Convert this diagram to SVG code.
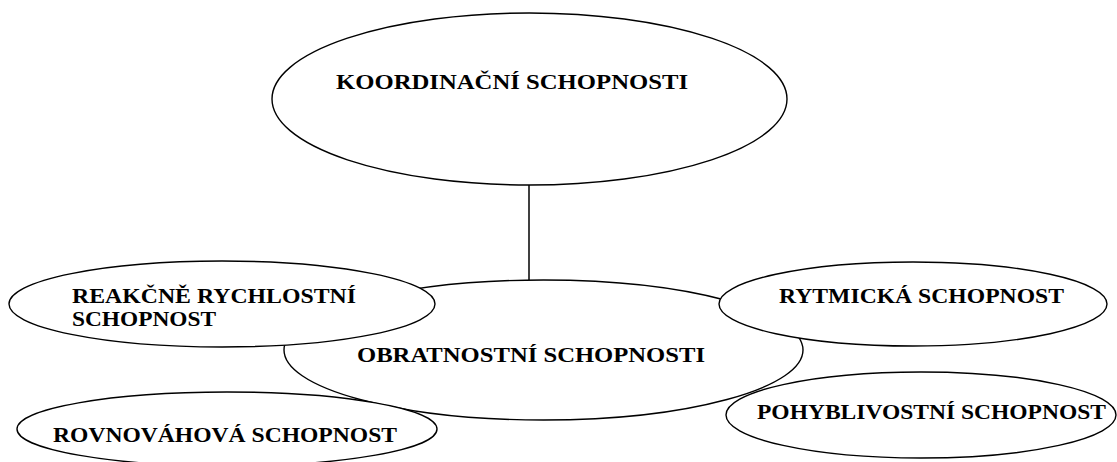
<svg xmlns="http://www.w3.org/2000/svg" width="1117" height="462" viewBox="0 0 1117 462">
<style>
.e{fill:#fff;stroke:#000;stroke-width:1.4}
.t{font-family:"Liberation Serif","Times New Roman",serif;font-weight:bold;font-size:22px;fill:#000}
.c{stroke:#000;stroke-width:1.5;fill:none}
</style>
<rect width="1117" height="462" fill="#fff"/>
<g id="connectors">
<line class="c" x1="529" y1="185" x2="529" y2="280"/>
</g>
<g id="koordinacni">
<ellipse class="e" cx="529.5" cy="99" rx="257.5" ry="86"/>
<text class="t" x="336" y="89" textLength="352" lengthAdjust="spacingAndGlyphs">KOORDINAČNÍ SCHOPNOSTI</text>
</g>
<g id="obratnostni">
<ellipse class="e" cx="543.5" cy="350" rx="259.5" ry="70"/>
<text class="t" x="357" y="362" textLength="348" lengthAdjust="spacingAndGlyphs">OBRATNOSTNÍ SCHOPNOSTI</text>
</g>
<g id="reakcne">
<ellipse class="e" cx="222" cy="304" rx="213" ry="43"/>
<text class="t" x="72" y="303" textLength="284" lengthAdjust="spacingAndGlyphs">REAKČNĚ RYCHLOSTNÍ</text>
<text class="t" x="72" y="326" textLength="144" lengthAdjust="spacingAndGlyphs">SCHOPNOST</text>
</g>
<g id="rytmicka">
<ellipse class="e" cx="913" cy="304" rx="194" ry="42"/>
<text class="t" x="779" y="303" textLength="285" lengthAdjust="spacingAndGlyphs">RYTMICKÁ SCHOPNOST</text>
</g>
<g id="rovnovahova">
<ellipse class="e" cx="227" cy="429" rx="210" ry="37"/>
<text class="t" x="53" y="442" textLength="344" lengthAdjust="spacingAndGlyphs">ROVNOVÁHOVÁ SCHOPNOST</text>
</g>
<g id="pohyblivostni">
<ellipse class="e" cx="921" cy="415" rx="195" ry="43"/>
<text class="t" x="757" y="419" textLength="349" lengthAdjust="spacingAndGlyphs">POHYBLIVOSTNÍ SCHOPNOST</text>
</g>
</svg>
